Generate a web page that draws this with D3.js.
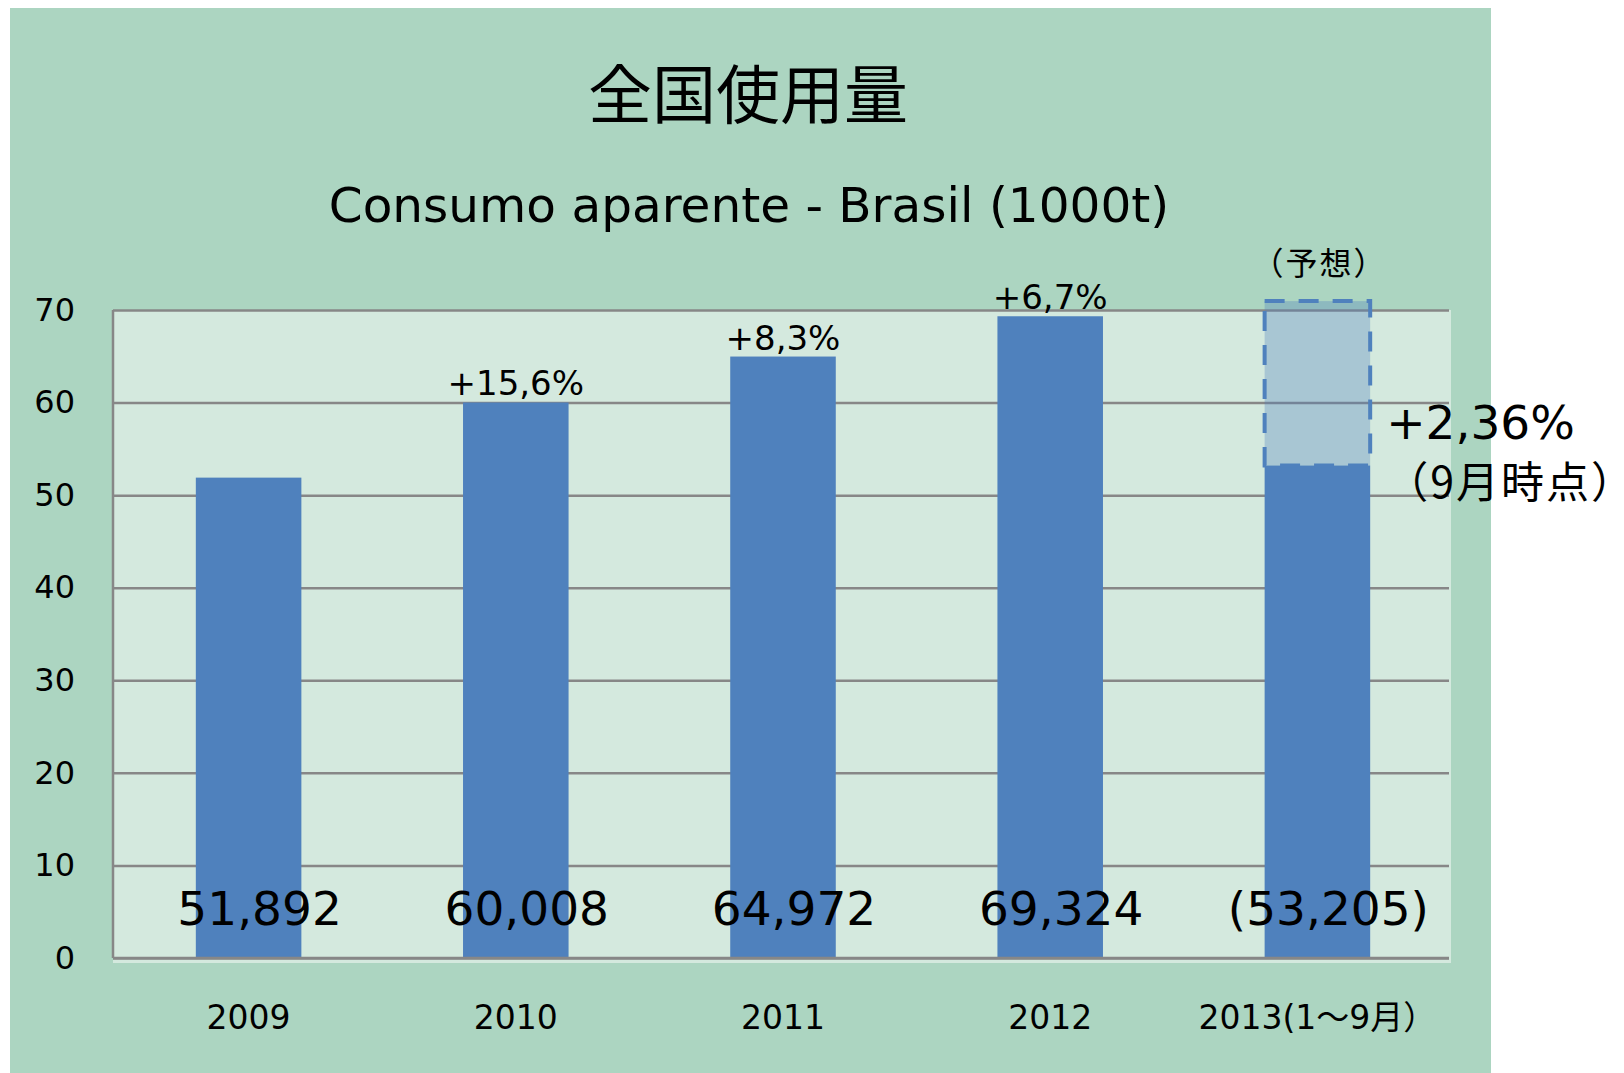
<!DOCTYPE html>
<html>
<head>
<meta charset="utf-8">
<script src="https://cdn.jsdelivr.net/npm/d3@7"></script>
<style>
  body { margin: 0; background: #fff; }
  text { font-family: 'DejaVu Sans', 'Noto Sans CJK JP', sans-serif; fill: #000; }
  .cjk { font-family: 'Noto Sans CJK JP', sans-serif; }
</style>
</head>
<body>
<div class="chart"></div>
<script>
// data (1000t)
var years = ["2009", "2010", "2011", "2012", "2013(1～9月）"];
var consumo = [51.892, 60.008, 64.972, 69.324, 53.205];
var growth = ["", "+15,6%", "+8,3%", "+6,7%", ""];
var projected2013 = 70.96;
var projGrowth = "+2,36%";
var yTicks = [0, 10, 20, 30, 40, 50, 60, 70];

var W = 1624, H = 1073;
var plot = { left: 113, right: 1449, top: 310, bottom: 958 };

var svg = d3.select('.chart')
    .append('svg')
    .attr('width', W)
    .attr('height', H);

// outer green panel
svg.append('rect')
    .attr('x', 10).attr('y', 8)
    .attr('width', 1481).attr('height', H - 8)
    .attr('fill', '#acd5c1');

var xScale = d3.scaleBand()
    .domain(years)
    .range([plot.left + 2, plot.right + 2])
    .paddingInner(0.605)
    .paddingOuter(0.3025);

var yScale = d3.scaleLinear()
    .domain([0, 70])
    .range([plot.bottom, plot.top]);

// plot background
svg.append('rect')
    .attr('x', plot.left).attr('y', plot.top)
    .attr('width', plot.right - plot.left + 2)
    .attr('height', plot.bottom - plot.top + 5)
    .attr('fill', '#d4e9de');

// gridlines
var grid = svg.append('g')
    .attr('transform', 'translate(' + plot.left + ',0)')
    .call(d3.axisLeft(yScale).tickValues(yTicks).tickSize(-(plot.right - plot.left)).tickFormat(''));
grid.select('.domain').remove();
grid.selectAll('line').attr('stroke', '#878787').attr('stroke-width', 2.5);

// y-axis line
svg.append('line')
    .attr('x1', plot.left).attr('x2', plot.left)
    .attr('y1', plot.top).attr('y2', plot.bottom)
    .attr('stroke', '#878787').attr('stroke-width', 2.5);

// y tick labels
var yAxis = svg.append('g')
    .attr('transform', 'translate(' + (plot.left - 38) + ',0)')
    .call(d3.axisLeft(yScale).tickValues(yTicks).tickSize(0).tickPadding(0));
yAxis.select('.domain').remove();
yAxis.selectAll('text')
    .attr('font-size', 32)
    .style('font-family', "'DejaVu Sans', sans-serif")
    .attr('fill', '#000');

// bars
svg.append('g').selectAll('rect')
    .data(consumo)
    .enter()
    .append('rect')
    .attr('x', function (d, i) { return xScale(years[i]); })
    .attr('y', function (d) { return yScale(d); })
    .attr('width', xScale.bandwidth())
    .attr('height', function (d) { return yScale(0) - yScale(d); })
    .attr('fill', '#4f81bd');

// projected part of 2013
var last = years[years.length - 1];
svg.append('rect')
    .attr('x', xScale(last))
    .attr('y', yScale(projected2013))
    .attr('width', xScale.bandwidth())
    .attr('height', yScale(consumo[4]) - yScale(projected2013))
    .attr('fill', '#4f81bd')
    .attr('fill-opacity', 0.33)
    .attr('stroke', '#4f81bd')
    .attr('stroke-width', 4)
    .attr('stroke-dasharray', '20,14');

// x axis baseline
svg.append('line')
    .attr('x1', plot.left).attr('x2', plot.right)
    .attr('y1', yScale(0)).attr('y2', yScale(0))
    .attr('stroke', '#878787').attr('stroke-width', 2.5);

// growth labels
svg.append('g').selectAll('text')
    .data(growth)
    .enter()
    .append('text')
    .attr('x', function (d, i) { return xScale(years[i]) + xScale.bandwidth() / 2; })
    .attr('y', function (d, i) { return yScale(consumo[i]) - 7; })
    .attr('text-anchor', 'middle')
    .attr('font-size', 34)
    .text(function (d) { return d; });

// value labels
var fmt = d3.format(',.0f');
svg.append('g').selectAll('text')
    .data(consumo)
    .enter()
    .append('text')
    .attr('x', function (d, i) { return xScale(years[i]) + xScale.bandwidth() / 2 + 11; })
    .attr('y', yScale(0) - 33)
    .attr('text-anchor', 'middle')
    .attr('font-size', 47)
    .text(function (d, i) {
        var s = fmt(d * 1000);
        return i === consumo.length - 1 ? '(' + s + ')' : s;
    });

// x tick labels
var xAxis = svg.append('g')
    .attr('transform', 'translate(0,' + (yScale(0) + 48) + ')')
    .call(d3.axisBottom(xScale).tickSize(0).tickPadding(0));
xAxis.select('.domain').remove();
xAxis.selectAll('text')
    .attr('font-size', 33)
    .style('font-family', "'DejaVu Sans', 'Noto Sans CJK JP', sans-serif")
    .attr('fill', '#000');

// annotations on 2013
var cx = xScale(last) + xScale.bandwidth() / 2;
svg.append('text')
    .attr('class', 'cjk')
    .attr('x', cx + 2)
    .attr('y', yScale(projected2013) - 26)
    .attr('text-anchor', 'middle')
    .attr('font-size', 32)
    .attr('letter-spacing', 2)
    .text('（予想）');

svg.append('text')
    .attr('x', xScale(last) + xScale.bandwidth() + 16)
    .attr('y', yScale(consumo[4]) - 26)
    .attr('font-size', 47)
    .text(projGrowth);

svg.append('text')
    .attr('class', 'cjk')
    .attr('x', xScale(last) + xScale.bandwidth() + 15)
    .attr('y', yScale(consumo[4]) + 33)
    .attr('font-size', 43)
    .attr('letter-spacing', 2)
    .text('（9月時点）');

// titles
svg.append('text')
    .attr('class', 'cjk')
    .attr('x', 748)
    .attr('y', 118)
    .attr('text-anchor', 'middle')
    .attr('font-size', 64)
    .text('全国使用量');

svg.append('text')
    .attr('x', 749)
    .attr('y', 222)
    .attr('text-anchor', 'middle')
    .attr('font-size', 48.5)
    .text('Consumo aparente - Brasil (1000t)');
</script>
</body>
</html>
